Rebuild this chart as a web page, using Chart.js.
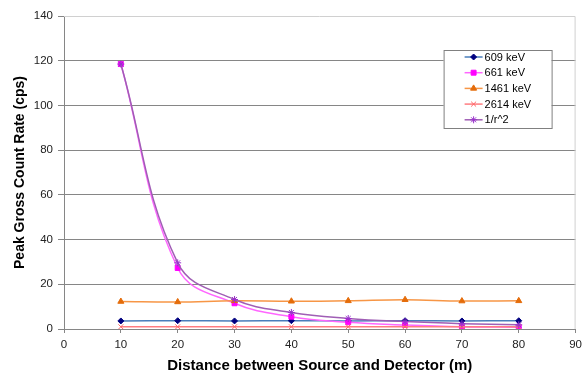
<!DOCTYPE html>
<html>
<head>
<meta charset="utf-8">
<title>Peak Gross Count Rate vs Distance</title>
<script src="https://cdn.jsdelivr.net/npm/chart.js@4/dist/chart.umd.min.js"></script>
<style>
  html, body { margin: 0; padding: 0; background: #fff; }
  #wrap { width: 587px; height: 375px; }
</style>
</head>
<body>
<div id="wrap"><canvas id="c" width="587" height="375"></canvas></div>
<script>
// Source-to-detector distance (m)
const distances = [10, 20, 30, 40, 50, 60, 70, 80];

// Peak gross count rates (cps) per gamma line
const rate609  = [3.6, 3.7, 3.6, 3.7, 3.6, 3.7, 3.6, 3.7];
const rate661  = [118.5, 27.3, 11.5, 5.5, 3.0, 1.8, 1.0, 0.8];
const rate1461 = [12.3, 12.1, 12.6, 12.4, 12.6, 13.1, 12.5, 12.6];
const rate2614 = [1.0, 1.0, 1.0, 1.0, 1.0, 1.0, 1.0, 1.0];
// Inverse-square expectation scaled from the 10 m point
const inverseSquare = [118.5, 29.6, 13.2, 7.4, 4.7, 3.3, 2.4, 1.85];

const seriesNames = ['609 keV', '661 keV', '1461 keV', '2614 keV', '1/r^2'];

const xTicks = [0, 10, 20, 30, 40, 50, 60, 70, 80, 90];
const yTicks = [0, 20, 40, 60, 80, 100, 120, 140];

function pts(ys) { return distances.map((x, i) => ({ x, y: ys[i] })); }

const FONT = '"Liberation Sans", Arial, sans-serif';

const styles = [
  { line: '#4A7EBB', mark: '#000080', style: 'rectRot', r: 3 },
  { line: '#FF66FF', mark: '#FF00FF', style: 'rect', r: 3.5 },
  { line: '#F79646', mark: '#E46C0A', style: 'triangle', r: 3.5 },
  { line: '#FF7C80', mark: '#FF6666', style: 'crossRot', r: 3.5 },
  { line: '#A05EB5', mark: '#9933CC', style: 'star', r: 3.5 }
];
const values = [rate609, rate661, rate1461, rate2614, inverseSquare];

const datasets = values.map((v, i) => ({
  label: seriesNames[i],
  data: pts(v),
  borderColor: styles[i].line,
  backgroundColor: styles[i].mark,
  pointBorderColor: styles[i].mark,
  pointBackgroundColor: styles[i].mark,
  pointStyle: styles[i].style,
  pointRadius: styles[i].r,
  pointBorderWidth: 1,
  borderWidth: 1.5,
  tension: 0.4,
  cubicInterpolationMode: 'default',
  showLine: true,
  fill: false,
  order: 5 - i
}));

// Light frame on the plot area's top and right sides
const plotFrame = {
  id: 'plotFrame',
  beforeDatasetsDraw(chart) {
    const a = chart.chartArea, ctx = chart.ctx;
    ctx.save();
    ctx.strokeStyle = '#D0D0D0';
    ctx.lineWidth = 1;
    ctx.beginPath();
    ctx.moveTo(a.left, a.top + 0.5);
    ctx.lineTo(a.right - 0.5, a.top + 0.5);
    ctx.lineTo(a.right - 0.5, a.bottom);
    ctx.stroke();
    ctx.restore();
  }
};

// Boxed legend sitting inside the plot area, upper right
const boxLegend = {
  id: 'boxLegend',
  afterDraw(chart) {
    const a = chart.chartArea, ctx = chart.ctx;
    const x0 = a.right - 132, y0 = a.top + 34, w = 108, h = 78;
    ctx.save();
    ctx.fillStyle = '#FFFFFF';
    ctx.fillRect(x0, y0, w, h);
    ctx.strokeStyle = '#808080';
    ctx.lineWidth = 1;
    ctx.strokeRect(x0 + 0.5, y0 + 0.5, w, h);
    ctx.font = '11px ' + FONT;
    ctx.textBaseline = 'middle';
    ctx.textAlign = 'left';
    chart.data.datasets.forEach((ds, i) => {
      const yy = y0 + 7 + i * 15.7;
      ctx.strokeStyle = ds.borderColor;
      ctx.lineWidth = 1.5;
      ctx.beginPath();
      ctx.moveTo(x0 + 21, yy);
      ctx.lineTo(x0 + 39, yy);
      ctx.stroke();
      ctx.fillStyle = ds.pointBackgroundColor;
      ctx.strokeStyle = ds.pointBorderColor;
      ctx.lineWidth = 1;
      Chart.helpers.drawPoint(ctx, {
        pointStyle: ds.pointStyle, radius: ds.pointRadius, rotation: 0, borderWidth: 1
      }, x0 + 30, yy);
      ctx.fillStyle = '#000000';
      ctx.fillText(ds.label, x0 + 41, yy + 0.5);
    });
    ctx.restore();
  }
};

new Chart(document.getElementById('c'), {
  type: 'scatter',
  data: { datasets },
  options: {
    responsive: false,
    devicePixelRatio: 1,
    animation: false,
    layout: { padding: { top: 16, right: 11, left: 0, bottom: 0 } },
    plugins: {
      legend: { display: false },
      tooltip: { enabled: false }
    },
    scales: {
      x: {
        type: 'linear',
        min: 0, max: 90,
        afterBuildTicks(s) { s.ticks = xTicks.map(v => ({ value: v })); },
        afterFit(s) { s.height = 46; },
        grid: { drawOnChartArea: false, drawTicks: true, tickLength: 4, color: '#868686' },
        border: { color: '#868686', width: 1 },
        ticks: { color: '#222', padding: 5, font: { family: FONT, size: 11.5 } },
        title: {
          display: true,
          text: 'Distance between Source and Detector (m)',
          color: '#000',
          padding: { top: 0, bottom: 0 },
          font: { family: FONT, size: 15, weight: 'bold' }
        }
      },
      y: {
        type: 'linear',
        min: 0, max: 140,
        afterBuildTicks(s) { s.ticks = yTicks.map(v => ({ value: v })); },
        afterFit(s) { s.width = 64; },
        grid: {
          color: c => (c.tick && c.tick.value === 140) ? 'rgba(0,0,0,0)' : '#868686',
          tickColor: '#868686',
          tickLength: 6
        },
        border: { color: '#868686', width: 1 },
        ticks: { color: '#222', padding: 5, font: { family: FONT, size: 11.5 } },
        title: {
          display: true,
          text: 'Peak Gross Count Rate (cps)',
          color: '#000',
          padding: { top: 12, bottom: 0 },
          font: { family: FONT, size: 14, weight: 'bold' }
        }
      }
    }
  },
  plugins: [plotFrame, boxLegend]
});
</script>
</body>
</html>
